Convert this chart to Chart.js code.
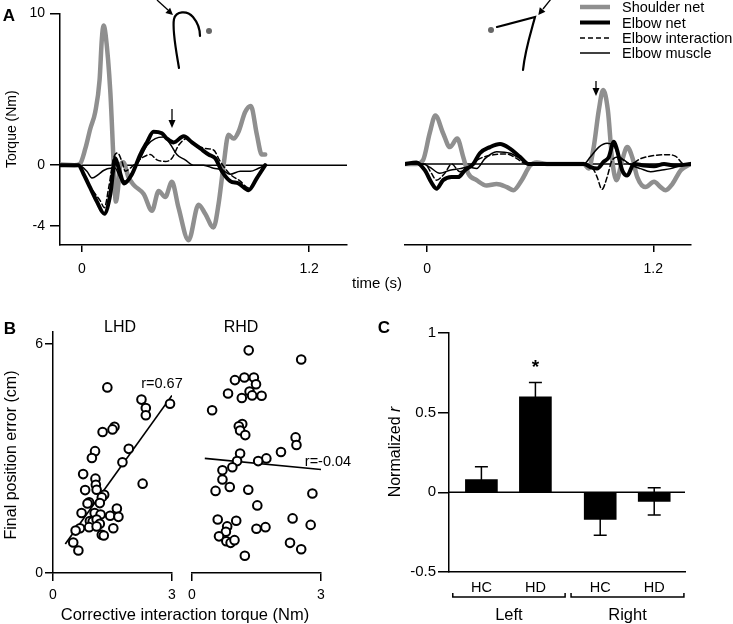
<!DOCTYPE html>
<html>
<head>
<meta charset="utf-8">
<script src="https://cdn.jsdelivr.net/npm/chart.js@4.4.1/dist/chart.umd.min.js"></script>
<style>
body{margin:0;background:#fff}
#fig{position:relative;width:733px;height:624px;overflow:hidden;font-family:"Liberation Sans",Arial,sans-serif;color:#000}
#fig canvas{position:absolute}
.lbl{position:absolute;white-space:nowrap;line-height:1;transform:translate(-50%,-50%)}
.rot{transform:translate(-50%,-50%) rotate(-90deg)}
.leg{position:absolute;left:622px;font-size:14.5px;line-height:1;transform:translateY(-50%);white-space:nowrap}
#deco{position:absolute;left:0;top:0}
</style>
</head>
<body>
<div id="fig">
<canvas id="aLeft" width="360" height="290" style="left:0;top:0"></canvas>
<canvas id="aRight" width="363" height="290" style="left:370px;top:0"></canvas>
<canvas id="bLeft" width="182" height="324" style="left:0;top:300px"></canvas>
<canvas id="bRight" width="151" height="324" style="left:182px;top:300px"></canvas>
<canvas id="cBars" width="373" height="324" style="left:360px;top:300px"></canvas>

<svg id="deco" width="733" height="624">
  <!-- arm icons -->
  <g fill="none" stroke="#000" stroke-width="2.2" stroke-linecap="round">
    <path d="M179,68 C176,50 172,30 174,19 C176,11 187,10 193,17 C198,23 200,30 200,36"/>
    <path d="M497,27 L535,17 C531,32 525,50 523,70"/>
  </g>
  <g fill="#666"><circle cx="209" cy="31" r="3"/><circle cx="491" cy="30" r="3"/></g>
  <!-- arrows -->
  <g stroke="#000" stroke-width="1.3">
    <line x1="157" y1="0" x2="168" y2="10"/>
    <line x1="551" y1="-1" x2="543" y2="9"/>
    <line x1="172" y1="109" x2="172" y2="121"/>
    <line x1="596" y1="81" x2="596" y2="89"/>
  </g>
  <g fill="#000">
    <polygon points="173,15 165.4,13 170.1,7.8"/>
    <polygon points="538.3,15 539.8,7.3 545.4,11.7"/>
    <polygon points="172,128 168.5,120 175.5,120"/>
    <polygon points="596,96 592.5,88 599.5,88"/>
  </g>
  <g id="legendLines"></g>
</svg>

<div class="lbl" style="left:9px;top:15px;font-weight:bold;font-size:17px">A</div>
<div class="lbl" style="left:10px;top:328px;font-weight:bold;font-size:17px">B</div>
<div class="lbl" style="left:384px;top:327px;font-weight:bold;font-size:17px">C</div>
<div class="lbl" style="left:377px;top:282px;font-size:15px">time (s)</div>
<div class="lbl" style="left:120px;top:327px;font-size:16px">LHD</div>
<div class="lbl" style="left:241px;top:327px;font-size:16px">RHD</div>
<div class="lbl" style="left:162px;top:383px;font-size:14.5px">r=0.67</div>
<div class="lbl" style="left:328px;top:461px;font-size:14.5px">r=-0.04</div>
<div class="lbl" style="left:185px;top:614px;font-size:16.5px">Corrective interaction torque (Nm)</div>
<div class="lbl rot" style="left:11px;top:455px;font-size:16px">Final position error (cm)</div>
<div class="lbl rot" style="left:395px;top:452px;font-size:16px">Normalized <i>r</i></div>
<div id="legend"></div>
</div>

<script>

/* PANEL A - TORQUES [time s, Nm] */

const timeTicks = [0, 1.2]
const torqueTicks = [-4, 0, 10]

const leftShoulder = [[-0.114,0.05],[-0.04,0],[-0.01,0.1],[0.018,1.1],[0.044,2.4],[0.070,3.5],[0.093,5.6],[0.105,8.3],[0.114,9.2],[0.125,8.6],[0.150,4.8],[0.167,0.25],[0.179,-2.4],[0.190,-1.6],[0.202,0],[0.218,0.2],[0.246,-0.8],[0.273,-1.3],[0.326,-1.9],[0.370,-3.0],[0.405,-1.7],[0.440,-2.1],[0.475,-1.1],[0.510,-2.8],[0.563,-4.95],[0.616,-2.6],[0.651,-3.2],[0.695,-4.1],[0.721,-2.6],[0.748,0],[0.774,2],[0.801,1.75],[0.827,2.2],[0.862,3.5],[0.892,3.9],[0.924,2],[0.950,0.7],[0.968,0.7]]
const leftElbowNet = [[-0.114,0],[-0.018,0],[0.009,-0.6],[0.044,-1.5],[0.079,-2.4],[0.118,-3.2],[0.150,-1.9],[0.176,0.45],[0.194,-0.2],[0.223,-1.2],[0.264,-0.6],[0.308,0.7],[0.343,1.5],[0.378,2.2],[0.422,2.1],[0.449,1.75],[0.484,1.5],[0.537,1.9],[0.581,1.5],[0.625,1.1],[0.669,0.7],[0.704,0.45],[0.739,-0.4],[0.783,-1.05],[0.827,-1.2],[0.880,-1.65],[0.924,-0.85],[0.968,0]]
const leftElbowInter = [[-0.114,0],[-0.018,0],[0.026,-1.05],[0.070,-1.9],[0.097,-2.35],[0.118,-2.8],[0.141,-1.5],[0.167,0.45],[0.188,0.8],[0.211,0.25],[0.229,-0.4],[0.255,-0.2],[0.290,0.2],[0.326,0.55],[0.361,0.7],[0.396,0.35],[0.440,0.25],[0.475,0.45],[0.510,1.3],[0.554,1.75],[0.607,1.3],[0.651,1.1],[0.695,1.0],[0.730,0.25],[0.783,-0.6],[0.836,-1.05],[0.880,-1.5],[0.924,-0.85],[0.968,0]]
const leftElbowMuscle = [[-0.114,0],[-0.018,0],[0.026,-0.4],[0.053,-0.85],[0.088,-0.6],[0.114,-0.35],[0.150,-0.2],[0.176,-0.2],[0.202,-0.85],[0.229,-1.05],[0.264,-0.5],[0.308,0.45],[0.343,1.3],[0.387,1.75],[0.431,1.85],[0.466,1.4],[0.501,0.7],[0.545,0.35],[0.589,0],[0.642,0],[0.695,-0.2],[0.739,-0.3],[0.783,-0.6],[0.836,-0.4],[0.889,-0.4],[0.933,-0.2],[0.968,0]]

const rightShoulder = [[-0.119,0],[-0.057,0],[-0.021,0.25],[0.014,2],[0.044,3.15],[0.085,2],[0.121,1.1],[0.160,1.65],[0.192,0.45],[0.218,-0.6],[0.263,-1.05],[0.316,-1.4],[0.369,-1.3],[0.423,-1.5],[0.458,-1.7],[0.502,-1.05],[0.547,-0.1],[0.582,0.1],[0.636,0],[0.760,0],[0.831,0],[0.857,-0.3],[0.884,1.1],[0.911,3.5],[0.934,4.8],[0.959,3.5],[0.982,0.25],[1.005,-1.05],[1.035,0.25],[1.062,1.1],[1.088,0.45],[1.115,-0.85],[1.159,-1.5],[1.204,-1.15],[1.239,-1.5],[1.266,-1.7],[1.301,-1.3],[1.346,-0.4],[1.399,0]]
const rightElbowNet = [[-0.119,0],[-0.057,0.1],[-0.012,-0.4],[0.023,-1.2],[0.050,-1.6],[0.085,-1.05],[0.130,-0.85],[0.165,-0.85],[0.201,-0.4],[0.245,0],[0.280,0.7],[0.334,1.1],[0.387,1.3],[0.440,1.0],[0.494,0.45],[0.538,0],[0.831,0],[0.866,-0.2],[0.902,-0.3],[0.937,0.15],[0.964,0.45],[0.991,1.45],[1.008,0.9],[1.035,-0.4],[1.062,-0.75],[1.097,0],[1.150,-0.1],[1.204,-0.15],[1.257,0],[1.310,-0.1],[1.399,0]]
const rightElbowInter = [[-0.119,0],[-0.012,0],[0.023,-0.6],[0.050,-1.05],[0.094,-0.6],[0.130,0],[0.174,-0.5],[0.227,-0.1],[0.280,0.35],[0.352,0.6],[0.423,0.65],[0.476,0.35],[0.529,0],[0.831,0],[0.875,-0.2],[0.902,-0.85],[0.928,-1.65],[0.955,-0.85],[0.982,0.25],[1.017,0.45],[1.044,0.25],[1.079,0],[1.133,0.35],[1.204,0.55],[1.275,0.6],[1.319,0.5],[1.363,0],[1.399,0]]
const rightElbowMuscle = [[-0.119,0],[-0.021,0],[0.014,-0.2],[0.067,-0.6],[0.121,-0.4],[0.174,-0.3],[0.218,-0.2],[0.263,-0.3],[0.307,0.35],[0.369,0.8],[0.440,0.7],[0.494,0.35],[0.538,0],[0.831,0],[0.866,0.45],[0.911,1.1],[0.955,1.35],[0.991,1.2],[1.017,0.45],[1.044,0.25],[1.088,-0.1],[1.133,-0.3],[1.186,-0.5],[1.239,-0.4],[1.292,-0.3],[1.346,-0.1],[1.399,0]]


/* PANEL B - SCATTER [torque Nm, error cm] */

const errTicks = [0, 6]
const torqueXTicks = [0, 3]

const lhdPoints = [[1.37,4.86],[2.23,4.54],[2.34,4.32],[2.34,4.13],[2.95,4.43],[1.55,3.83],[1.50,3.76],[1.25,3.69],[1.91,3.25],[1.75,2.90],[1.06,3.19],[0.98,3.01],[0.76,2.59],[1.07,2.47],[1.08,2.31],[1.10,2.18],[0.81,2.17],[2.26,2.34],[1.29,2.05],[1.23,1.98],[0.91,1.85],[0.87,1.82],[0.72,1.57],[1.18,1.83],[1.05,1.57],[1.20,1.53],[1.44,1.50],[1.61,1.69],[1.65,1.47],[0.93,1.36],[1.00,1.35],[1.10,1.40],[1.18,1.29],[0.91,1.20],[1.10,1.22],[1.52,1.17],[0.68,1.17],[0.57,1.11],[1.23,1.00],[1.28,0.98],[0.51,0.80],[0.64,0.59]]
const rhdPoints = [[1.32,5.83],[2.54,5.59],[1.00,5.05],[1.22,5.12],[1.44,5.12],[1.49,4.94],[0.84,4.70],[1.16,4.58],[1.34,4.75],[1.40,4.65],[1.62,4.64],[0.47,4.26],[1.17,3.90],[1.09,3.84],[1.12,3.73],[1.24,3.61],[2.41,3.55],[2.43,3.35],[2.07,3.17],[1.12,3.13],[1.05,2.93],[1.73,3.00],[1.54,2.93],[0.94,2.77],[0.71,2.69],[0.71,2.45],[0.88,2.25],[0.55,2.15],[1.31,2.18],[2.80,2.08],[1.52,1.77],[0.60,1.40],[1.03,1.37],[0.82,1.22],[2.34,1.43],[2.76,1.26],[1.50,1.16],[1.71,1.20],[0.79,1.08],[0.63,0.96],[0.80,0.83],[0.90,0.79],[0.99,0.86],[2.28,0.79],[2.54,0.62],[1.23,0.45]]
const lhdFit = [[0.31,0.76],[3.0,4.65]]
const rhdFit = [[0.30,3.0],[3.0,2.71]]


/* PANEL C - BARS */

const cGroups = ["HC","HD","HC","HD"]
const cPos = [0.6, 1.6, 2.8, 3.8]
const cMeans = [0.08, 0.60, -0.17, -0.057]
const cErrs = [0.08, 0.09, 0.10, 0.085]
const cTicks = [-0.5, 0, 0.5, 1]
const cSides = ["Left","Right"]
const cSpans = [[0.07,2.15],[2.26,4.35]]
const cStarIndex = 1


/* COMMON */

Chart.defaults.font.family = '"Liberation Sans", Arial, sans-serif'
Chart.defaults.color = "#000"

const series = [
    {label:"Shoulder net", color:"#8f8f8f", width:4.5, dash:[]},
    {label:"Elbow net", color:"#000", width:4, dash:[]},
    {label:"Elbow interaction", color:"#000", width:1.5, dash:[5,3]},
    {label:"Elbow muscle", color:"#000", width:1.5, dash:[]}
]

function axis(min, max, ticks, size, tickLen, extra){
    return Object.assign({
        type:"linear", min:min, max:max,
        afterBuildTicks: s => { s.ticks = ticks.map(v => ({value:v})) },
        border:{color:"#000", width:1.5},
        grid:{drawOnChartArea:false, color:"#000", lineWidth:1.5, tickLength:tickLen},
        ticks:{font:{size:size}, padding:4, maxRotation:0, autoSkip:false, callback: v => String(v)}
    }, extra)
}

const zeroLine = {
    id:"zeroLine",
    beforeDatasetsDraw(chart){
        const {ctx, chartArea:a, scales:{y}} = chart
        const py = y.getPixelForValue(0)
        ctx.save()
        ctx.strokeStyle = "#000"
        ctx.lineWidth = 1.5
        ctx.beginPath()
        ctx.moveTo(a.left, py)
        ctx.lineTo(a.right, py)
        ctx.stroke()
        ctx.restore()
    }
}

const base = {
    responsive:false, devicePixelRatio:1, animation:false,
    plugins:{legend:{display:false}, tooltip:{enabled:false}}
}

function torqueSets(list){
    return list.map((d, i) => ({
        label:series[i].label, data:d,
        borderColor:series[i].color, borderWidth:series[i].width, borderDash:series[i].dash,
        pointRadius:0, tension:0.4, cubicInterpolationMode:"monotone",
        borderCapStyle:"round", borderJoinStyle:"round", order:4 - i
    }))
}

const timeAxisTicks = {font:{size:14}, padding:9, maxRotation:0, autoSkip:false, callback: v => String(v)}


/* GRAFICO A ESQUERDA */

new Chart(document.getElementById("aLeft"), {
    type:"line",
    data:{datasets:torqueSets([leftShoulder, leftElbowNet, leftElbowInter, leftElbowMuscle])},
    options:Object.assign({}, base, {
        layout:{padding:{top:10, right:13}},
        scales:{
            x:axis(-0.116, 1.40, timeTicks, 14, 7, {afterFit: s => { s.height = 45 }, ticks:timeAxisTicks}),
            y:axis(-5.26, 10, torqueTicks, 14, 10, {
                afterFit: s => { s.width = 60 },
                ticks:{font:{size:14}, padding:5, autoSkip:false, callback: v => String(v)},
                title:{display:true, text:"Torque (Nm)", font:{size:14}, padding:{top:4, bottom:0}}
            })
        }
    }),
    plugins:[zeroLine]
})


/* GRAFICO A DIREITA */

new Chart(document.getElementById("aRight"), {
    type:"line",
    data:{datasets:torqueSets([rightShoulder, rightElbowNet, rightElbowInter, rightElbowMuscle])},
    options:Object.assign({}, base, {
        layout:{padding:{top:10, left:35, right:42}},
        scales:{
            x:axis(-0.117, 1.40, timeTicks, 14, 7, {afterFit: s => { s.height = 45 }, ticks:timeAxisTicks}),
            y:{type:"linear", min:-5.26, max:10, display:false}
        }
    }),
    plugins:[zeroLine]
})


/* LEGENDA */

const legY = [7, 22.5, 38, 53]
const svgNS = "http://www.w3.org/2000/svg"
series.forEach((s, i) => {
    const ln = document.createElementNS(svgNS, "line")
    ln.setAttribute("x1", 580); ln.setAttribute("x2", 610)
    ln.setAttribute("y1", legY[i]); ln.setAttribute("y2", legY[i])
    ln.setAttribute("stroke", s.color)
    ln.setAttribute("stroke-width", s.width)
    if (s.dash.length) ln.setAttribute("stroke-dasharray", s.dash.join(","))
    document.getElementById("legendLines").appendChild(ln)
    const t = document.createElement("div")
    t.className = "leg"
    t.style.top = legY[i] + "px"
    t.textContent = s.label
    document.getElementById("legend").appendChild(t)
})


/* GRAFICOS B */

function scatterSets(points, fit){
    return [
        {data:points, pointRadius:4.3, borderWidth:2, borderColor:"#000", backgroundColor:"#fff", clip:false, order:1},
        {data:fit, showLine:true, pointRadius:0, borderWidth:1.7, borderColor:"#000", order:2}
    ]
}

const errAxisTicks = {font:{size:14}, padding:6, maxRotation:0, autoSkip:false, callback: v => String(v)}

new Chart(document.getElementById("bLeft"), {
    type:"scatter",
    data:{datasets:scatterSets(lhdPoints, lhdFit)},
    options:Object.assign({}, base, {
        layout:{padding:{top:32, right:10}},
        scales:{
            x:axis(0, 3, torqueXTicks, 14, 8, {afterFit: s => { s.height = 51 }, ticks:errAxisTicks}),
            y:axis(0, 6.31, errTicks, 14, 8, {
                afterFit: s => { s.width = 53 },
                ticks:{font:{size:14}, padding:2, autoSkip:false, callback: v => String(v)}
            })
        }
    })
})

new Chart(document.getElementById("bRight"), {
    type:"scatter",
    data:{datasets:scatterSets(rhdPoints, rhdFit)},
    options:Object.assign({}, base, {
        layout:{padding:{top:32, left:7, right:12}},
        scales:{
            x:axis(0, 3, torqueXTicks, 14, 8, {afterFit: s => { s.height = 51 }, ticks:errAxisTicks}),
            y:{type:"linear", min:0, max:6.31, display:false}
        }
    })
})


/* GRAFICO C */

const barExtras = {
    id:"barExtras",
    afterDatasetsDraw(chart){
        const {ctx, chartArea:a, scales:{x, y}} = chart
        ctx.save()
        ctx.strokeStyle = "#000"
        ctx.lineWidth = 1.5
        // error bars
        cPos.forEach((p, i) => {
            const px = x.getPixelForValue(p)
            const hi = y.getPixelForValue(cMeans[i] + cErrs[i])
            const lo = y.getPixelForValue(cMeans[i] - cErrs[i])
            ctx.beginPath()
            ctx.moveTo(px, hi); ctx.lineTo(px, lo)
            ctx.moveTo(px - 6.5, hi); ctx.lineTo(px + 6.5, hi)
            ctx.moveTo(px - 6.5, lo); ctx.lineTo(px + 6.5, lo)
            ctx.stroke()
        })
        // significance star
        ctx.fillStyle = "#000"
        ctx.font = 'bold 19px "Liberation Sans", Arial, sans-serif'
        ctx.textAlign = "center"
        ctx.textBaseline = "alphabetic"
        ctx.fillText("*", x.getPixelForValue(cPos[cStarIndex]), y.getPixelForValue(cMeans[cStarIndex] + cErrs[cStarIndex]) - 9)
        // group brackets
        const by = a.bottom + 25
        ctx.font = '16.5px "Liberation Sans", Arial, sans-serif'
        ctx.textBaseline = "middle"
        cSpans.forEach((sp, i) => {
            const x1 = x.getPixelForValue(sp[0]), x2 = x.getPixelForValue(sp[1])
            ctx.beginPath()
            ctx.moveTo(x1, by - 4); ctx.lineTo(x1, by); ctx.lineTo(x2, by); ctx.lineTo(x2, by - 4)
            ctx.stroke()
            ctx.fillText(cSides[i], (x1 + x2) / 2, by + 18)
        })
        ctx.restore()
    }
}

new Chart(document.getElementById("cBars"), {
    type:"bar",
    data:{datasets:[{
        data:cPos.map((p, i) => ({x:p, y:cMeans[i]})),
        backgroundColor:"#000", barThickness:32
    }]},
    options:Object.assign({}, base, {
        layout:{padding:{top:33, right:48}},
        scales:{
            x:axis(0, 4.37, cPos, 14.5, 0, {
                offset:false,
                afterFit: s => { s.height = 52 },
                grid:{drawOnChartArea:false, drawTicks:false, offset:false},
                ticks:{font:{size:14.5}, padding:7, maxRotation:0, autoSkip:false, callback:(v, i) => cGroups[i]}
            }),
            y:axis(-0.5, 1, cTicks, 15, 11, {
                afterFit: s => { s.width = 89 },
                ticks:{font:{size:15}, padding:2, autoSkip:false, callback: v => String(v)}
            })
        }
    }),
    plugins:[zeroLine, barExtras]
})

</script>
</body>
</html>
